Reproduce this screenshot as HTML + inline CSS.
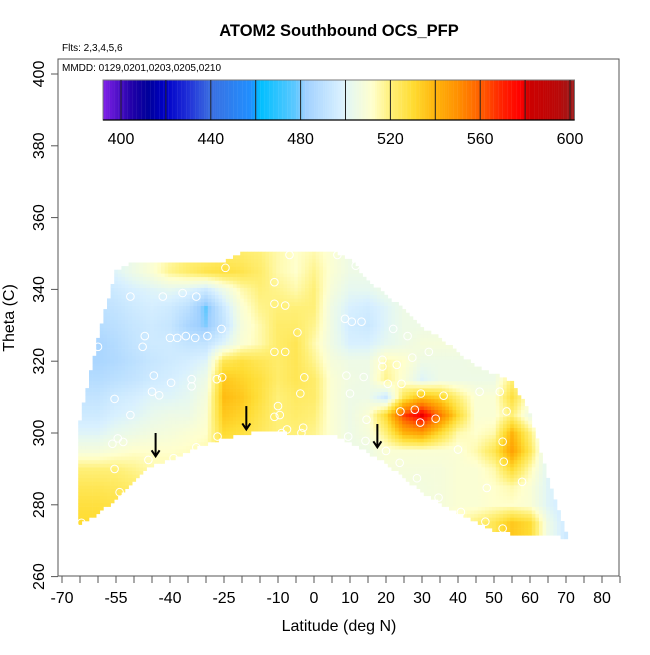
<!DOCTYPE html>
<html><head><meta charset="utf-8"><style>
body{margin:0;background:#fff;}
svg text{font-family:"Liberation Sans",Arial,sans-serif;}
</style></head><body>
<svg id="chart" width="650" height="650" viewBox="0 0 650 650" xmlns="http://www.w3.org/2000/svg">
<rect width="650" height="650" fill="#fff"/>
<text x="339" y="36" font-size="16.5" font-weight="bold" text-anchor="middle">ATOM2 Southbound OCS_PFP</text>
<text x="62" y="51" font-size="10">Flts: 2,3,4,5,6</text>
<g id="heat"></g>
<g id="pts"></g>
<g id="arrows"></g>
<rect x="58" y="59" width="561" height="517" fill="none" stroke="#555" stroke-width="1"/>
<text x="62" y="71" font-size="10">MMDD: 0129,0201,0203,0205,0210</text>
<g id="cbar"></g>
<g id="xaxis"></g>
<g id="yaxis"></g>
<text x="339" y="631" font-size="16" text-anchor="middle">Latitude (deg N)</text>
<text transform="translate(14,318) rotate(-90)" font-size="16" text-anchor="middle">Theta (C)</text>
</svg>
<script>
const lats=[-65,-60,-55,-50,-45,-40,-35,-30,-25,-20,-15,-10,-5,0,5,10,15,20,25,30,35,40,45,50,55,60,65,70];
const topTheta=[303,326,345,347,347,347,347,347,347,350,350,350,350,350,350,348,342,338,334,329,326,322,318,316,314,305,287,272];
const botTheta=[275,278,282,287,291.5,293,295.5,297.5,299,300,301,301,300,300.5,300,298,295,292,288,284,281,278,276,273.5,272.5,272.5,272.5,271];
const thetas=[350,345,340,335,330,325,320,315,310,305,300,295,290,285,280,275,270];
const ocsValues=[
[495,495,500,505,510,515,520,520,522,522,520,515,512,515,510,505,505,505,505,505,505,505,505,505,505,500,495,495],
[495,495,500,505,510,518,522,526,528,526,522,515,512,518,510,505,505,505,505,505,505,505,505,505,505,500,495,495],
[492,492,495,498,500,502,500,495,505,515,520,518,515,520,508,502,502,505,505,505,505,505,505,505,505,500,495,495],
[490,490,492,495,497,495,490,478,495,510,518,520,520,520,505,498,496,500,505,505,505,505,505,505,505,500,495,495],
[488,488,490,493,495,493,485,480,492,508,515,522,522,518,505,496,494,500,505,505,505,505,505,505,505,500,495,495],
[485,485,488,492,495,495,492,492,500,510,515,522,525,515,505,498,498,502,505,508,508,508,507,505,505,500,495,495],
[485,485,487,490,493,495,497,500,525,528,525,522,525,518,508,505,505,515,512,505,505,505,506,505,505,500,495,495],
[488,488,490,492,495,497,500,505,535,532,528,522,525,522,510,506,505,518,510,500,505,505,505,505,520,510,497,495],
[492,492,495,497,500,500,502,508,538,535,528,520,523,522,510,505,505,495,525,538,532,520,510,510,528,510,497,495],
[495,495,498,500,503,505,505,510,535,532,526,520,522,520,510,505,510,530,565,580,555,530,510,510,520,505,497,495],
[500,500,503,505,507,508,510,512,530,528,524,520,520,518,510,505,508,520,540,545,530,515,512,515,540,520,497,495],
[508,508,510,512,512,512,513,515,525,522,520,518,518,515,510,505,505,510,510,510,510,510,515,525,545,525,497,495],
[520,520,520,518,515,515,515,515,520,520,518,515,515,512,510,505,505,508,508,508,508,510,510,515,530,515,500,495],
[525,525,524,522,520,518,517,517,518,518,516,514,514,512,510,505,505,507,507,507,508,510,510,512,515,510,500,495],
[528,528,527,524,522,520,518,518,518,518,516,514,514,512,510,505,505,507,507,507,508,510,510,512,512,510,500,495],
[530,530,528,525,522,520,518,518,518,518,516,514,514,512,510,505,505,507,507,507,508,515,520,525,535,530,505,495],
[530,530,528,525,522,520,518,518,518,518,516,514,514,512,510,505,505,507,507,507,508,515,520,525,535,530,505,495]];
const ptLat=[-24.6,-6.8,-32.7,-51,-42,-36.5,-11,-11,-8,-4.6,-25.7,-47,-40,-38,-35.6,-33,-29.6,-60,-47.6,-11,-8,-44.5,-39.7,-34,-34,-27,-25.5,-2.7,-45,-43,-3.8,-55.4,-10,-9.5,-11,-51,-7.5,-3,-9,-3.5,-54.5,-56,-53,-26.8,-32.7,-39,-46,-55.4,-54,-64.6,6.5,11.6,8.6,10.5,13.2,22,26,31.9,19,19,27.3,23,9,13.8,20.5,24.3,10,29.7,36,46,51.6,24,28,14.6,29.5,33.8,53.5,9.5,14.3,20,23.8,40,52.4,52.7,28.6,34.6,48,57.8,40.8,47.6,52.4];
const ptTheta=[346,349.6,338,338,338,339,342,336,335.5,328,329,327,326.5,326.5,327,326.5,327,324,324,322.6,322.6,316,314,315,313,315,315.5,315.5,311.5,310.5,311,309.5,307.5,305,304.5,305,301,301.5,300,300,298.5,297,297.5,299,296,293,292.5,290,283.5,275,349.6,346.6,331.8,331,331,329,327,322.6,320.4,318.5,321,319,316,315.6,313.7,313.7,311,311,310.4,311.5,311.5,306,306.5,303.7,302.9,304,306,299,297.8,295,291.7,295.4,297.6,292,287.4,282,284.7,286.4,278,275.3,273.4];
const arrowLat=[-44,-18.8,17.6];
const arrowTop=[300,307.5,302.5];
const arrowBot=[293.5,301,296];
const cbTicks=[400,440,480,520,560,600];
const cbLines=[400,420,440,460,480,500,520,540,560,580,600];
const xTickLabels=[-70,-55,-40,-25,-10,0,10,20,30,40,50,60,70,80];
const yTickLabels=[260,280,300,320,340,360,380,400];

const NS="http://www.w3.org/2000/svg";
function X(lat){return 314+lat*3.6;}
function Y(th){return 74+(400-th)*3.59;}
function mk(tag,attrs,parent){const e=document.createElementNS(NS,tag);for(const k in attrs)e.setAttribute(k,attrs[k]);parent.appendChild(e);return e;}
const stops=[[392,[128,32,232]],[405,[32,0,168]],[412,[0,0,154]],[420,[0,0,200]],[430,[32,48,216]],[440,[58,110,224]],[458,[32,144,255]],[462,[0,191,255]],[478,[96,200,255]],[482,[160,208,255]],[498,[216,240,255]],[502,[230,248,240]],[512,[255,255,205]],[520,[255,240,120]],[530,[255,220,50]],[540,[255,180,10]],[550,[255,144,0]],[560,[255,96,0]],[570,[255,32,0]],[578,[255,0,0]],[582,[204,0,0]],[595,[184,8,8]],[600,[160,24,24]],[610,[150,30,30]]];
function col(v){
  if(v<=stops[0][0])return 'rgb('+stops[0][1]+')';
  for(let i=1;i<stops.length;i++){if(v<=stops[i][0]){const a=stops[i-1],b=stops[i],t=(v-a[0])/(b[0]-a[0]);
    return 'rgb('+[0,1,2].map(j=>Math.round(a[1][j]+(b[1][j]-a[1][j])*t)).join(',')+')';}}
  return 'rgb('+stops[stops.length-1][1]+')';
}
function interpArr(arr,lat){
  if(lat<=lats[0])return arr[0];
  for(let i=1;i<lats.length;i++){if(lat<=lats[i]){const t=(lat-lats[i-1])/(lats[i]-lats[i-1]);return arr[i-1]+(arr[i]-arr[i-1])*t;}}
  return arr[arr.length-1];
}
function val(lat,th){
  let i=0;while(i<lats.length-2&&lat>lats[i+1])i++;
  let tx=Math.max(0,Math.min(1,(lat-lats[i])/(lats[i+1]-lats[i])));
  let r=0;while(r<thetas.length-2&&th<thetas[r+1])r++;
  let ty=Math.max(0,Math.min(1,(thetas[r]-th)/(thetas[r]-thetas[r+1])));
  const a=ocsValues[r][i],b=ocsValues[r][i+1],c=ocsValues[r+1][i],d=ocsValues[r+1][i+1];
  return (a*(1-tx)+b*tx)*(1-ty)+(c*(1-tx)+d*tx)*ty;
}
const heat=document.getElementById('heat');
for(let lat=-65;lat<=70.5;lat+=1){
  const tp=interpArr(topTheta,lat),bt=interpArr(botTheta,lat);
  for(let th=270;th<=351;th+=1){
    if(th<bt-0.5||th>tp+0.5)continue;
    const r=mk('rect',{x:(X(lat-0.5)).toFixed(1),y:(Y(th+0.5)).toFixed(1),width:3.9,height:3.9,fill:col(val(lat,th))},heat);
    
    
  }
}
const pts=document.getElementById('pts');
for(let i=0;i<ptLat.length;i++){
  const c=mk('circle',{cx:X(ptLat[i]),cy:Y(ptTheta[i]),r:3.8,fill:'none',stroke:'#fff','stroke-width':1},pts);
  
  
}
const arr=document.getElementById('arrows');
for(let i=0;i<arrowLat.length;i++){
  const x=X(arrowLat[i]),y1=Y(arrowTop[i]),y2=Y(arrowBot[i]);
  const g=mk('g',{},arr);
  
  
  mk('line',{x1:x,y1:y1,x2:x,y2:y2,stroke:'#000','stroke-width':2},g);
  mk('polyline',{points:(x-4)+','+(y2-6)+' '+x+','+y2+' '+(x+4)+','+(y2-6),fill:'none',stroke:'#000','stroke-width':2},g);
}
const cb=document.getElementById('cbar');
function CX(v){return 121+(v-400)*(449/200);}
for(let v=392;v<602;v+=1){
  const r=mk('rect',{x:CX(v).toFixed(2),y:80,width:2.4,height:40,fill:col(v+0.5)},cb);
  
  
}
mk('rect',{x:CX(392),y:80,width:CX(602)-CX(392),height:40,fill:'none',stroke:'#777','stroke-width':1},cb);
for(const v of cbLines){
  const l=mk('line',{x1:CX(v),x2:CX(v),y1:80,y2:120,stroke:'#222','stroke-width':1},cb);
  
  
}
mk('line',{x1:CX(392),x2:CX(602),y1:120,y2:120,stroke:'#000','stroke-width':1.2},cb);
for(const v of cbTicks){
  const t=mk('text',{x:CX(v),y:144,'font-size':16,'text-anchor':'middle'},cb);
  t.textContent=v;
  
  
}
const xa=document.getElementById('xaxis');
for(let lat=-70;lat<=85;lat+=5){
  const tk=mk('line',{x1:X(lat),x2:X(lat),y1:576,y2:583,stroke:'#555','stroke-width':1},xa);
  
  
}
for(const v of xTickLabels){
  const t=mk('text',{x:X(v),y:603,'font-size':16,'text-anchor':'middle'},xa);
  t.textContent=v;
  
  
}
const ya=document.getElementById('yaxis');
for(const v of yTickLabels){
  const tk=mk('line',{x1:51,x2:58,y1:Y(v),y2:Y(v),stroke:'#555','stroke-width':1},ya);
  
  
  const t=mk('text',{transform:'translate(44,'+Y(v)+') rotate(-90)','font-size':16,'text-anchor':'middle'},ya);
  t.textContent=v;
  
  
}
</script>
</body></html>
